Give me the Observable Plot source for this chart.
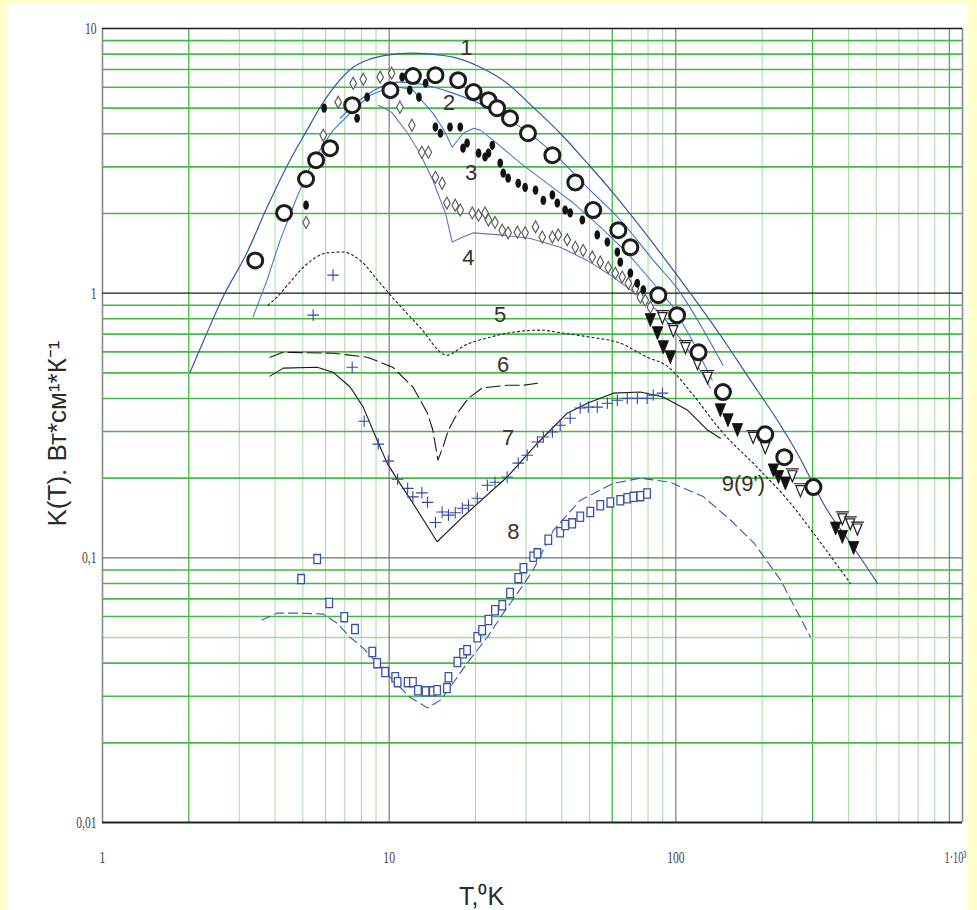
<!DOCTYPE html>
<html><head><meta charset="utf-8">
<script src="https://cdn.jsdelivr.net/npm/d3@7"></script>
<script src="https://cdn.jsdelivr.net/npm/@observablehq/plot@0.6"></script>
<style>
html,body{margin:0;padding:0}
body{background:#ffffcc;width:977px;height:910px;overflow:hidden;position:relative}
#panel{position:absolute;left:8px;top:3px;width:960px;height:907px;background:#fff}
#chart{position:absolute;left:0;top:0}
#chart g[aria-label="x-axis tick label"], #chart g[aria-label="y-axis tick label"]{font-family:"Liberation Serif","DejaVu Serif",serif;font-size:17px;fill:#444}
</style></head>
<body><div id="panel"></div><div id="chart"></div>
<script>
// ---------- data (T in K, K in W/cm/K) ----------
const curve1T = [2.02,2.28,2.63,3.19,3.75,4.51,5.17,5.74,6.58,7.49,8.38,9.84,12.1,15.1,16.7,20.8,25.8,31.8,39.5,49.1,60.5,75.2,88.3,104,115,147,182,226,265,338,406,505];
const curve1K = [0.503,0.682,0.966,1.42,2.11,3.18,4.13,5.04,6.21,7.14,7.59,7.93,8.07,7.93,7.79,7.14,6.21,5.04,4.02,3.10,2.39,1.78,1.42,1.12,0.966,0.664,0.469,0.331,0.249,0.151,0.114,0.0802];

const curve2T = [6.75,8.05,9.30,10.9,12.8,16.7,22.0,28.7,37.4,49.1,64.0,83.5,104,122,146];
const curve2K = [4.58,5.45,6.00,6.27,6.17,5.70,5.04,4.24,3.38,2.51,1.89,1.33,1.00,0.757,0.535];

const curve3T = [3.35,3.75,4.17,4.77,5.43,6.38,7.49,8.59,9.84,10.9,12.1,12.8,14.2,15.4,16.6,18.1,19.7,20.8,23.1,28.7,35.6,43.9,54.5,67.7,83.5,98.0,114,134];
const curve3K = [0.812,1.12,1.59,2.31,3.18,4.13,4.91,5.60,5.95,6.00,5.85,5.45,4.79,4.20,3.56,4.02,4.20,4.13,3.78,3.10,2.60,2.19,1.78,1.42,1.09,0.885,0.664,0.469];

const curve4T = [9.16,10.2,11.6,12.8,14.2,15.7,16.6,18.1,19.7,24.4,31.1,39.5,49.1,60.5,75.2,88.3,108,132];
const curve4K = [5.13,4.83,4.02,3.38,2.67,2.01,1.56,1.63,1.69,1.66,1.61,1.49,1.33,1.15,0.966,0.840,0.636,0.438];

const curve5T = [3.78,4.06,4.51,5.01,6.08,6.91,7.92,9.30,10.7,12.8,15.9,18.4,22.5,27.1,33.7,40.5,50.3,64.0,79.4,93.3,115,143,192,251,302,406];
const curve5K = [0.901,0.966,1.10,1.25,1.42,1.43,1.33,1.09,0.917,0.744,0.583,0.636,0.682,0.712,0.725,0.706,0.682,0.647,0.573,0.530,0.412,0.304,0.220,0.161,0.124,0.0802];

const curve6T = [3.84,4.27,6.37,8.38,10.3,12.1,13.6,14.2,14.8,15.4,16.1,17.3,18.9,21.1,25.8,29.4,32.9];
const curve6K = [0.573,0.598,0.593,0.573,0.525,0.442,0.352,0.304,0.234,0.262,0.304,0.352,0.401,0.438,0.449,0.449,0.457];

const curve7T = [3.84,4.27,5.61,6.37,7.31,8.12,9.08,9.84,10.7,12.1,14.7,18.1,25.8,32.9,41.8,49.1,60.5,75.2,90.4,110,129,143];
const curve7K = [0.486,0.521,0.525,0.503,0.442,0.371,0.278,0.228,0.197,0.161,0.115,0.143,0.202,0.271,0.352,0.384,0.419,0.423,0.405,0.361,0.304,0.283];

const curve8T = [3.60,4.06,4.89,5.89,6.58,7.31,8.12,9.08,10.3,11.8,13.6,15.1,16.7,18.7,22.0,25.0,28.2,31.8,37.4,46.4,60.5,75.2,95.7,125,155,187,232,295];
const curve8K = [0.0582,0.0618,0.0618,0.0613,0.0566,0.0501,0.0456,0.0400,0.0345,0.0298,0.0271,0.0290,0.0336,0.0400,0.0501,0.0618,0.0742,0.0899,0.127,0.165,0.191,0.200,0.193,0.170,0.139,0.114,0.0824,0.0501];

const circlesT = [3.41,4.30,5.13,5.56,6.22,7.43,10.1,12.1,14.5,17.4,19.7,22.2,23.8,26.4,30.5,37.1,44.6,51.5,63.0,69.4,86.9,101,120,146,205,239,302];
const circlesK = [1.33,2.01,2.70,3.18,3.53,5.13,5.85,6.61,6.66,6.38,5.75,5.36,5.00,4.58,4.02,3.32,2.62,2.06,1.73,1.49,0.983,0.826,0.598,0.423,0.293,0.240,0.185];

const dotsT = [5.13,5.93,7.73,8.38,11.1,11.8,12.7,13.4,14.5,15.1,16.3,17.7,18.1,18.7,20.5,21.6,22.2,22.9,24.4,25.0,26.0,28.2,29.8,32.4,34.5,37.1,38.6,41.1,42.8,47.2,53.2,57.7,62.5,64.0,69.4,73.4,77.0];
const dotsK = [2.15,5.00,4.58,5.50,6.55,5.85,5.50,6.21,4.24,4.02,4.24,4.24,3.53,3.69,3.38,3.27,3.38,3.62,3.10,2.84,2.72,2.60,2.51,2.45,2.24,2.35,2.19,2.06,2.01,1.89,1.66,1.56,1.43,1.31,1.19,1.09,1.03];

const diamondsT = [5.13,5.89,6.64,7.49,8.12,9.30,10.2,10.9,12.0,13.0,13.7,14.5,15.3,15.9,17.0,17.7,19.5,20.5,21.6,22.2,23.4,24.8,26.0,28.0,29.8,32.4,34.2,37.1,38.9,41.8,44.6,47.5,51.1,54.5,58.1,61.5,65.0,68.3,72.2,75.2,78.2,81.5];
const diamondsK = [1.85,3.95,5.27,6.21,6.43,6.55,6.78,5.04,4.31,3.41,3.41,2.74,2.60,2.19,2.15,2.06,2.01,1.97,2.01,1.89,1.85,1.73,1.69,1.70,1.69,1.78,1.63,1.63,1.66,1.59,1.49,1.45,1.37,1.31,1.25,1.19,1.15,1.09,1.04,0.966,0.941,0.885];

const plusT = [5.43,6.37,7.43,8.18,9.16,9.93,10.7,11.6,12.1,13.0,13.6,14.5,15.3,16.1,17.0,18.0,18.9,20.3,22.0,23.4,25.8,28.2,30.3,32.9,34.5,37.1,39.5,42.8,46.4,49.5,53.2,57.7,62.5,67.7,73.4,79.4,83.4,89.8];
const plusK = [0.826,1.17,0.525,0.328,0.269,0.232,0.198,0.183,0.170,0.176,0.162,0.136,0.149,0.145,0.148,0.154,0.158,0.168,0.188,0.193,0.202,0.228,0.244,0.274,0.286,0.299,0.317,0.337,0.368,0.371,0.371,0.384,0.394,0.401,0.401,0.401,0.412,0.419];

const squaresT = [4.93,5.61,6.18,6.97,7.60,8.73,9.08,9.68,10.5,10.7,11.6,12.1,12.6,13.4,14.2,14.7,15.9,16.1,17.3,18.1,18.7,20.3,21.1,22.2,23.4,24.8,26.4,28.2,29.4,31.8,32.9,35.9,39.5,41.1,43.5,46.4,50.3,54.5,59.1,64.0,67.7,71.1,75.2,79.4];
const squaresK = [0.0831,0.0989,0.0675,0.0597,0.0538,0.0441,0.0400,0.0370,0.0354,0.0339,0.0339,0.0339,0.0316,0.0313,0.0313,0.0316,0.0322,0.0354,0.0404,0.0436,0.0448,0.0501,0.0533,0.0582,0.0634,0.0662,0.0736,0.0838,0.0914,0.101,0.104,0.117,0.125,0.133,0.135,0.143,0.149,0.158,0.162,0.165,0.168,0.170,0.171,0.175];

const triFilledT = [81.5,86.3,90.4,95.7,143,152,164,219,228,241,361,381,417];
const triFilledK = [0.791,0.706,0.625,0.573,0.361,0.331,0.304,0.214,0.202,0.191,0.129,0.120,0.109];
const triOpenT = [89.8,98.0,108,119,129,186,205,255,272,381,406,430];
const triOpenK = [0.812,0.725,0.625,0.544,0.482,0.286,0.262,0.205,0.180,0.141,0.135,0.129];

const labelText = ["1","2","3","4","5","6","7","8","9(9')"];
const labelT = [18.6,16.2,19.3,18.9,24.4,25.0,26.0,27.1,172];
const labelK = [8.43,5.22,2.84,1.36,0.826,0.535,0.283,0.125,0.191];

const xTicks = [1,10,100,1000];
const xTickLabels = ["1","10","100","1·10³"];
const yTicks = [0.01,0.1,1,10];
const yTickLabels = ["0,01","0,1","1","10"];

const xMinorLight = [3,4,5,6,7,8,9,20,30,40,50,70,80,90,200,400,500,600,700,800];
const xMinorDark = [2,60,300,900];
const yMinorDark = [0.02,0.03,0.04,0.06,0.07,0.08,0.09,0.2,0.3,0.4,0.5,0.6,0.7,0.8,0.9,2,3,4,5,6,7,8,9];
const yMinorLight = [0.05];

const xTitle = "T,⁰K";
const yTitle = "K(T). Вт*см¹*К⁻¹";

// ---------- helpers ----------
const pts = (T, K) => T.map((t, i) => ({T: t, K: K[i]}));
const labels = labelText.map((s, i) => ({s, T: labelT[i], K: labelK[i]}));

const ellipseSym = {draw(c, size) {
  const r = Math.sqrt(size / Math.PI), w = r * 0.62, h = r, k = 0.5523;
  c.moveTo(0, -h);
  c.bezierCurveTo(k*w, -h, w, -k*h, w, 0);
  c.bezierCurveTo(w, k*h, k*w, h, 0, h);
  c.bezierCurveTo(-k*w, h, -w, k*h, -w, 0);
  c.bezierCurveTo(-w, -k*h, -k*w, -h, 0, -h);
  c.closePath();
}};
const diamondSym = {draw(c, size) {
  const r = Math.sqrt(size / Math.PI), w = r * 0.55, h = r;
  c.moveTo(0, -h); c.lineTo(w, 0); c.lineTo(0, h); c.lineTo(-w, 0); c.closePath();
}};
const rectSym = {draw(c, size) {
  const r = Math.sqrt(size / Math.PI), w = r * 0.72, h = r;
  c.moveTo(-w, -h); c.lineTo(w, -h); c.lineTo(w, h); c.lineTo(-w, h); c.closePath();
}};
const triSym = {draw(c, size) {
  const r = Math.sqrt(size / Math.PI), w = r * 0.8, h = r;
  c.moveTo(-w, -h); c.lineTo(w, -h); c.lineTo(0, h); c.closePath();
}};
const triBarSym = {draw(c, size) {
  const r = Math.sqrt(size / Math.PI), w = r * 0.7, h = r;
  c.moveTo(-w, -h*0.7); c.lineTo(w, -h*0.7); c.lineTo(0, h); c.closePath();
  c.moveTo(-w - 2, -h); c.lineTo(w + 2, -h);
}};

const xy = {x: "T", y: "K"};
const tickFont = {fontSize: 17, fontFamily: "Liberation Serif, DejaVu Serif, serif"};

const chart = Plot.plot({
  width: 977, height: 910,
  marginLeft: 102, marginRight: 15, marginTop: 28, marginBottom: 88,
  style: {background: "transparent", overflow: "visible", fontFamily: "Liberation Sans, Arial, sans-serif"},
  x: {type: "log", domain: [1, 1000]},
  y: {type: "log", domain: [0.01, 10]},
  marks: [
    // grid
    Plot.ruleX(xMinorLight, {stroke: "#a4dba4", strokeWidth: 1}),
    Plot.ruleX(xMinorDark, {stroke: "#44b644", strokeWidth: 1.3}),
    Plot.ruleY(yMinorLight, {stroke: "#a4dba4", strokeWidth: 1.3}),
    Plot.ruleY(yMinorDark, {stroke: "#47b847", strokeWidth: 1.6}),
    Plot.ruleX([10, 100], {stroke: "#7d7d7d", strokeWidth: 1.2}),
    Plot.ruleX([1, 1000], {stroke: "#8a8a8a", strokeWidth: 1.6}),
    Plot.ruleY([0.1], {stroke: "#6f6f6f", strokeWidth: 1.2}),
    Plot.ruleY([1, 10], {stroke: "#1b1b1b", strokeWidth: 1.4}),
    Plot.ruleY([0.01], {stroke: "#222", strokeWidth: 2.2}),
    // axes
    Plot.axisX(xTicks, {...tickFont, tickSize: 0, tickPadding: 28, tickFormat: d => xTickLabels[xTicks.indexOf(d)], label: null}),
    Plot.axisY(yTicks, {...tickFont, tickSize: 0, tickPadding: 6, tickFormat: d => yTickLabels[yTicks.indexOf(d)], label: null}),
    Plot.text([xTitle], {frameAnchor: "bottom", dx: -51, dy: 82, textAnchor: "middle", lineAnchor: "bottom", fontSize: 25, fill: "#2a2a2a"}),
    Plot.text([yTitle], {frameAnchor: "left", rotate: -90, dx: -45, dy: 8, textAnchor: "middle", lineAnchor: "middle", fontSize: 26, fill: "#2a2a2a"}),
    // curves
    Plot.line(pts(curve8T, curve8K), {...xy, stroke: "#3d57a8", strokeWidth: 1.1, strokeDasharray: "9,5"}),
    Plot.line(pts(curve7T, curve7K), {...xy, stroke: "#1a1a1a", strokeWidth: 1.1}),
    Plot.line(pts(curve6T, curve6K), {...xy, stroke: "#1a1a1a", strokeWidth: 1.1, strokeDasharray: "14,5"}),
    Plot.line(pts(curve5T, curve5K), {...xy, stroke: "#1a1a1a", strokeWidth: 1.1, strokeDasharray: "2,3", curve: "monotone-x"}),
    Plot.line(pts(curve4T, curve4K), {...xy, stroke: "#7a68c0", strokeWidth: 1.1}),
    Plot.line(pts(curve3T, curve3K), {...xy, stroke: "#3f7fcc", strokeWidth: 1.1}),
    Plot.line(pts(curve2T, curve2K), {...xy, stroke: "#3a6fc0", strokeWidth: 1.1, curve: "monotone-x"}),
    Plot.line(pts(curve1T, curve1K), {...xy, stroke: "#34599f", strokeWidth: 1.2, curve: "monotone-x"}),
    // data points
    Plot.dot(pts(squaresT, squaresK), {...xy, symbol: rectSym, r: 4.6, fill: "white", stroke: "#3a52a6", strokeWidth: 1.3}),
    Plot.dot(pts(plusT, plusK), {...xy, symbol: "plus", r: 3.8, stroke: "#3346a6", strokeWidth: 1.1}),
    Plot.dot(pts(diamondsT, diamondsK), {...xy, symbol: diamondSym, r: 6, fill: "white", stroke: "#555", strokeWidth: 1.1}),
    Plot.dot(pts(dotsT, dotsK), {...xy, symbol: ellipseSym, r: 4.6, fill: "#111", stroke: "none"}),
    Plot.dot(pts(triOpenT, triOpenK), {...xy, symbol: triBarSym, r: 6.5, fill: "white", stroke: "#222", strokeWidth: 1.2}),
    Plot.dot(pts(triFilledT, triFilledK), {...xy, symbol: triSym, r: 6.5, fill: "#111", stroke: "#111", strokeWidth: 0.8}),
    Plot.dot(pts(circlesT, circlesK), {...xy, r: 7.5, fill: "white", stroke: "#1c1c1c", strokeWidth: 3}),
    // curve labels
    Plot.text(labels, {...xy, text: "s", fontSize: 22, fill: "#3b3128"})
  ]
});
document.getElementById("chart").appendChild(chart);
// condense the tick labels (narrow serif look of the original)
chart.querySelectorAll('g[aria-label="x-axis tick label"] text, g[aria-label="y-axis tick label"] text').forEach(t => {
  const w = t.getComputedTextLength();
  const last = t.textContent === xTickLabels[xTickLabels.length - 1];
  if (w > 0) { t.setAttribute("textLength", (w * (last ? 0.6 : 0.68)).toFixed(1)); t.setAttribute("lengthAdjust", "spacingAndGlyphs"); }
  if (last) t.setAttribute("dx", "-7");
});
</script>
</body></html>
